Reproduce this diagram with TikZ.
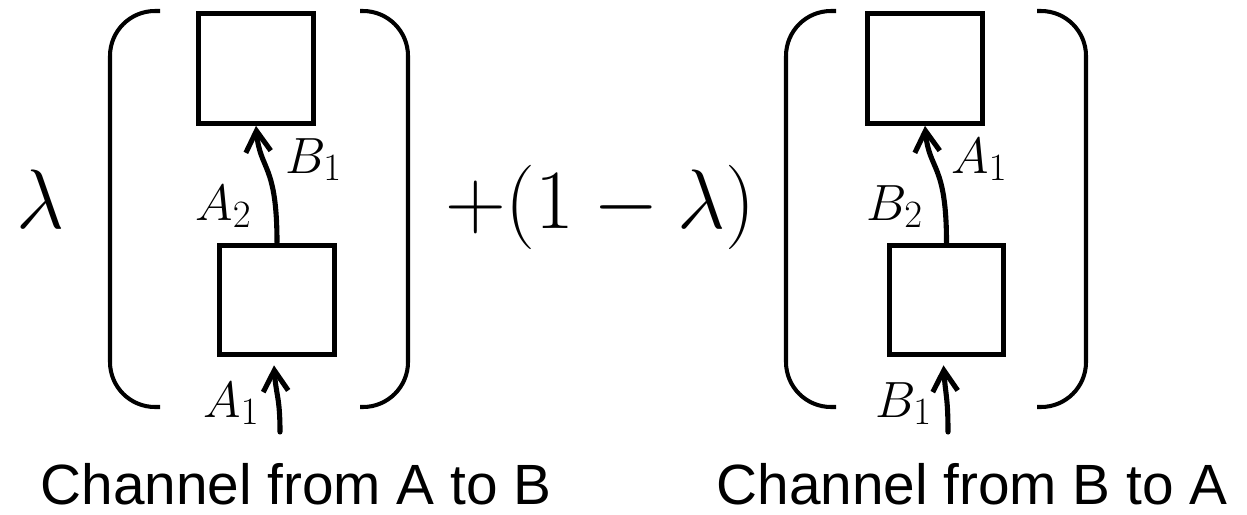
\RequirePackage{fix-cm}
\documentclass[tikz,border=0pt]{standalone}
\usepackage{amsmath}
\usepackage{fontspec}
\setsansfont{Liberation Sans}
\usepackage{tikz}
\usetikzlibrary{arrows.meta}
\DeclareMathSizes{29}{29}{22}{16}

\begin{document}
\begin{tikzpicture}[x=0.02cm, y=-0.02cm,
  box/.style={draw, line width=3pt, minimum width=2.29cm, minimum height=2.19cm, inner sep=0pt},
  arr/.style={-{Straight Barb[length=0.42cm,width=0.5cm]}, line width=2.9pt, line cap=round},
  paren/.style={line width=2.3pt, rounded corners=0.9cm},
  lab/.style={anchor=base west, inner sep=0pt, font=\fontsize{29}{30}\selectfont},
  big/.style={anchor=base west, inner sep=0pt, font=\fontsize{48}{50}\selectfont},
  capt/.style={anchor=base, inner sep=0pt, font=\fontsize{32.3}{34}\selectfont\sffamily}
]
\useasboundingbox (0,0) rectangle (1247,514);

% ---- channel from A to B (left) ----
\node[big]  (lam)  at (16,228)   {$\lambda$};
\node[box]  (topA) at (256,68.5) {};
\node[box]  (lowA) at (277,300)  {};
\coordinate (inA)  at (280,432);
\draw[paren] (160,11) -- (110,11) -- (110,407) -- (160,407);
\draw[paren] (360,11) -- (408,11) -- (408,407) -- (360,407);

\draw[arr] (inA) .. controls +(0,-35) and +(2,30) .. ([shift={(-3,8)}]lowA.south);
\draw[arr] (lowA.north) .. controls +(0,-80) and +(4,45) .. (topA.south);

\node[lab] (b1A) at (285,173) {$B_1$};
\node[lab] (a2A) at (195,220) {$A_2$};
\node[lab] (a1A) at (203,417) {$A_1$};

% ---- channel from B to A (right) ----
\node[big]  (omlam) at (445,228)    {$+(1-\lambda)$};
\node[box]  (topB)  at (925,68.5)   {};
\node[box]  (lowB)  at (946.5,300)  {};
\coordinate (inB)   at (948,432);
\draw[paren] (836,11) -- (786,11) -- (786,407) -- (836,407);
\draw[paren] (1037,11) -- (1086,11) -- (1086,407) -- (1037,407);

\draw[arr] (inB) .. controls +(0,-35) and +(2,30) .. ([shift={(-3,8)}]lowB.south);
\draw[arr] (lowB.north) .. controls +(0,-80) and +(4,45) .. (topB.south);

\node[lab] (a1B) at (951,173) {$A_1$};
\node[lab] (b2B) at (866,220) {$B_2$};
\node[lab] (b1B) at (875,417) {$B_1$};

% ---- captions ----
\node[capt] (capA) at (296,504) {Channel from A to B};
\node[capt] (capB) at (972,504) {Channel from B to A};

\end{tikzpicture}
\end{document}
